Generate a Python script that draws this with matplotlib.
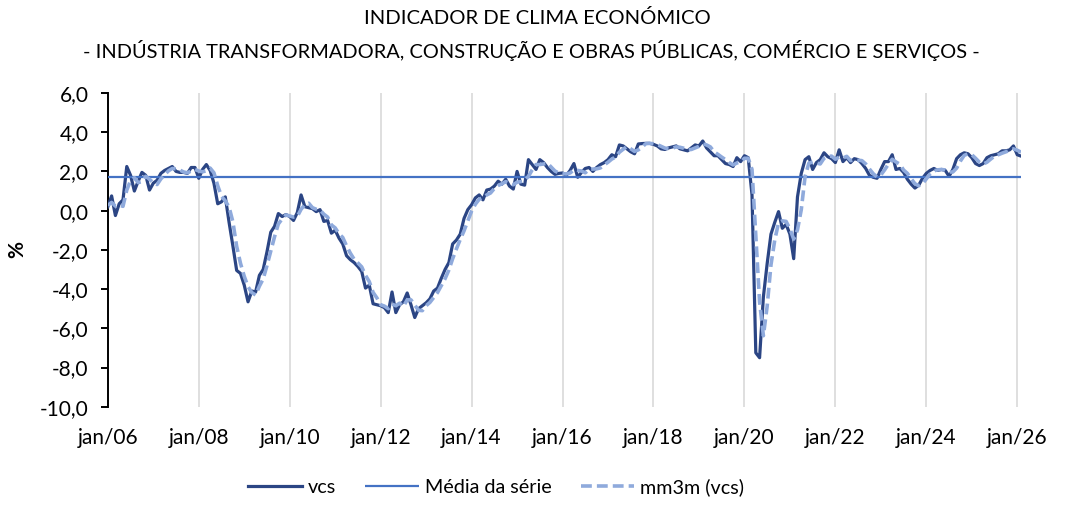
import matplotlib
matplotlib.use("Agg")
import matplotlib.pyplot as plt
from matplotlib.ticker import FuncFormatter

plt.rcParams['font.family'] = ['Lato', 'DejaVu Sans']

# monthly values, jan/06 .. feb/26
vcs = [
    0.20, 0.75, -0.25, 0.35, 0.55, 2.25, 1.80, 1.00, 1.50, 1.95, 1.80, 1.05,
    1.40, 1.55, 1.90, 2.05, 2.15, 2.25, 2.00, 1.95, 1.95, 1.90, 2.20, 2.20,
    1.65, 2.10, 2.35, 2.05, 1.40, 0.35, 0.45, 0.70, -0.60, -1.80, -3.05, -3.20,
    -3.80, -4.65, -4.10, -4.15, -3.30, -3.00, -2.10, -1.10, -0.80, -0.15, -0.30, -0.20,
    -0.30, -0.50, -0.10, 0.80, 0.20, 0.15, 0.10, -0.05, 0.05, -0.55, -0.50, -1.15,
    -1.00, -1.40, -1.70, -2.30, -2.50, -2.65, -2.85, -3.10, -3.95, -3.80, -4.75, -4.80,
    -4.85, -4.95, -5.20, -4.15, -5.20, -4.80, -4.65, -4.20, -4.80, -5.45, -5.00, -4.85,
    -4.70, -4.50, -4.10, -3.95, -3.45, -3.00, -2.65, -1.70, -1.50, -1.20, -0.40, 0.05,
    0.30, 0.65, 0.80, 0.55, 1.05, 1.10, 1.25, 1.50, 1.35, 1.60, 1.25, 1.10,
    2.00, 1.35, 1.30, 2.60, 2.35, 2.10, 2.60, 2.45, 2.20, 2.00, 1.85, 1.90,
    1.92, 1.80, 2.05, 2.40, 1.70, 1.95, 2.15, 2.20, 2.00, 2.20, 2.35, 2.45,
    2.60, 2.85, 2.75, 3.35, 3.30, 3.15, 3.00, 2.90, 3.40, 3.42, 3.43, 3.43,
    3.38, 3.30, 3.15, 3.12, 3.20, 3.25, 3.30, 3.15, 3.10, 3.05, 3.20, 3.35,
    3.30, 3.55, 3.20, 3.00, 2.80, 2.80, 2.60, 2.40, 2.35, 2.25, 2.70, 2.50,
    2.80, 2.70, 0.80, -7.25, -7.50, -4.40, -2.70, -1.20, -0.60, -0.05, -0.90, -0.70,
    -1.20, -2.45, 0.70, 1.90, 2.60, 2.75, 2.10, 2.45, 2.60, 2.95, 2.75, 2.65,
    2.45, 3.10, 2.50, 2.70, 2.45, 2.65, 2.60, 2.40, 2.15, 1.80, 1.70, 1.65,
    2.10, 2.50, 2.50, 2.85, 2.10, 2.15, 1.95, 1.60, 1.35, 1.15, 1.30, 1.65,
    1.90, 2.05, 2.15, 2.05, 2.10, 2.05, 1.75, 2.10, 2.65, 2.85, 2.95, 2.90,
    2.70, 2.40, 2.30, 2.40, 2.70, 2.80, 2.85, 2.90, 3.05, 3.05, 3.10, 3.30,
    2.85, 2.78,
]

mm3m = [
    0.27, 0.42, 0.23, 0.28, 0.22, 1.05, 1.53, 1.68, 1.43, 1.48, 1.75, 1.60,
    1.42, 1.33, 1.62, 1.83, 2.03, 2.15, 2.13, 2.07, 1.97, 1.93, 2.02, 2.10,
    2.02, 1.98, 2.03, 2.17, 1.93, 1.27, 0.73, 0.50, 0.18, -0.57, -1.82, -2.68,
    -3.35, -3.88, -4.18, -4.30, -3.85, -3.48, -2.80, -2.07, -1.33, -0.68, -0.42, -0.22,
    -0.27, -0.33, -0.30, 0.07, 0.30, 0.38, 0.15, 0.07, 0.03, -0.18, -0.33, -0.73,
    -0.88, -1.18, -1.37, -1.80, -2.17, -2.48, -2.67, -2.87, -3.30, -3.62, -4.17, -4.45,
    -4.80, -4.87, -5.00, -4.77, -4.85, -4.72, -4.88, -4.55, -4.55, -4.82, -5.08, -5.10,
    -4.85, -4.68, -4.43, -4.18, -3.83, -3.47, -3.03, -2.45, -1.95, -1.47, -1.03, -0.52,
    -0.02, 0.33, 0.58, 0.67, 0.80, 0.90, 1.13, 1.28, 1.37, 1.48, 1.40, 1.32,
    1.45, 1.48, 1.55, 1.75, 2.08, 2.35, 2.35, 2.38, 2.42, 2.22, 2.02, 1.92,
    1.89, 1.87, 1.92, 2.08, 2.05, 2.02, 1.93, 2.10, 2.12, 2.13, 2.18, 2.33,
    2.47, 2.63, 2.73, 2.98, 3.13, 3.27, 3.15, 3.02, 3.10, 3.24, 3.42, 3.43,
    3.41, 3.37, 3.28, 3.19, 3.16, 3.19, 3.25, 3.23, 3.18, 3.10, 3.12, 3.20,
    3.28, 3.40, 3.35, 3.25, 3.00, 2.87, 2.73, 2.60, 2.45, 2.33, 2.43, 2.48,
    2.67, 2.67, 2.10, -1.25, -4.65, -6.38, -4.87, -2.77, -1.50, -0.62, -0.52, -0.55,
    -0.93, -1.45, -0.98, 0.05, 1.73, 2.42, 2.48, 2.43, 2.38, 2.67, 2.77, 2.78,
    2.62, 2.73, 2.68, 2.77, 2.55, 2.60, 2.57, 2.55, 2.38, 2.12, 1.88, 1.72,
    1.82, 2.08, 2.37, 2.62, 2.48, 2.37, 2.07, 1.90, 1.63, 1.37, 1.27, 1.37,
    1.62, 1.87, 2.03, 2.08, 2.10, 2.07, 1.97, 1.97, 2.17, 2.53, 2.82, 2.90,
    2.85, 2.67, 2.47, 2.37, 2.47, 2.63, 2.78, 2.85, 2.93, 3.00, 3.07, 3.15,
    3.08, 2.98,
]

media = 1.70  # média da série

tick_labels = ["jan/06", "jan/08", "jan/10", "jan/12", "jan/14", "jan/16",
               "jan/18", "jan/20", "jan/22", "jan/24", "jan/26"]

x = list(range(len(vcs)))
n = len(vcs)

fig = plt.figure(figsize=(10.74, 5.28), dpi=100)
ax = fig.add_axes([0.1004, 0.2297, 0.8503, 0.5942])

ax.plot(x, vcs, color='#2B4584', lw=2.3, label='vcs', zorder=3)
ax.hlines(media, 0, n - 1, color='#4472C4', lw=1.6, label='Média da série', zorder=4)
ax.plot(x, mm3m, color='#8FAADC', lw=2.6, ls=(0, (3, 1.4)), label='mm3m (vcs)', zorder=5)

ax.set_xlim(0, n - 1)
ax.set_ylim(-10, 6)
ax.set_yticks(range(-10, 7, 2))
ax.yaxis.set_major_formatter(FuncFormatter(lambda v, p: f"{v:.1f}".replace('.', ',')))
ax.set_xticks(range(0, n, 24))
ax.set_xticklabels(tick_labels)

ax.grid(axis='x', color='#D9D9D9', lw=1.2, zorder=0)
for s in ['top', 'right', 'bottom']:
    ax.spines[s].set_visible(False)
ax.spines['left'].set_color('black')
ax.spines['left'].set_linewidth(1.4)
ax.tick_params(axis='y', length=5, width=1.4, direction='out', labelsize=15, pad=9)
ax.tick_params(axis='x', length=0, labelsize=15, pad=15)

fig.text(0.016, 0.527, '%', rotation=90, ha='center', va='center',
         fontsize=15, fontweight='bold')
fig.text(0.5, 0.966, 'INDICADOR DE CLIMA ECONÓMICO', ha='center', va='center', fontsize=14.6)
fig.text(0.495, 0.905,
         '- INDÚSTRIA TRANSFORMADORA, CONSTRUÇÃO E OBRAS PÚBLICAS, COMÉRCIO E SERVIÇOS -',
         ha='center', va='center', fontsize=14.4)

fig.legend(loc='center', bbox_to_anchor=(0.462, 0.078), ncol=3, frameon=False,
           fontsize=14.2, handlelength=2.7, handletextpad=0.3, columnspacing=1.5)

fig.savefig('out.png', dpi=100)
